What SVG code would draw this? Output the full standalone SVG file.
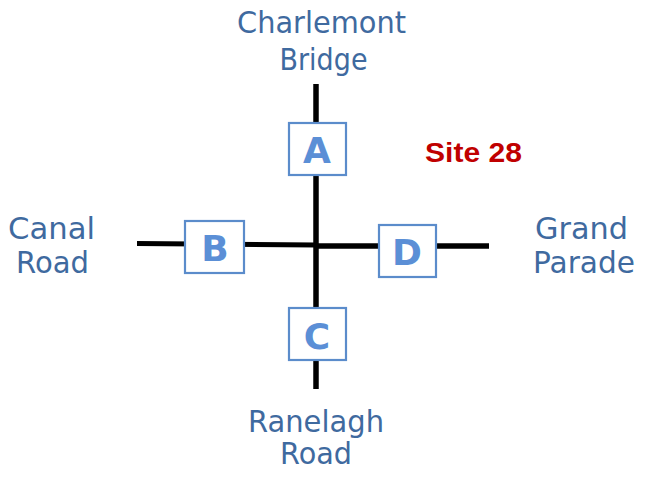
<svg xmlns="http://www.w3.org/2000/svg" width="653" height="477" viewBox="0 0 653 477">
<style>
.road{stroke:#000;stroke-width:5.5;fill:none}
.box{fill:#fff;stroke:#5B8CCB;stroke-width:2.2}
.let{font-family:"DejaVu Sans",sans-serif;font-weight:bold;font-size:36px;fill:#5B8FD6;text-anchor:middle}
.lbl{font-family:"DejaVu Sans",sans-serif;font-size:30px;fill:#3F6A9F;text-anchor:middle}
.site{font-family:"Liberation Sans",Arial,sans-serif;font-weight:bold;font-size:27.5px;fill:#C00000}
</style>
<rect width="653" height="477" fill="#fff"/>
<g id="connectors">
<line class="road" x1="316" y1="84" x2="316" y2="389"/>
<line class="road" x1="137" y1="243.5" x2="316" y2="245" style="stroke-width:5"/>
<line class="road" x1="316" y1="246" x2="489" y2="246"/>
</g>
<g id="A"><rect class="box" x="289" y="123" width="57" height="52"/><text class="let" x="317" y="163">A</text></g>
<g id="B"><rect class="box" x="185" y="221" width="59" height="52"/><text class="let" x="215" y="261">B</text></g>
<g id="C"><rect class="box" x="289" y="308" width="57" height="52"/><text class="let" x="317" y="349">C</text></g>
<g id="D"><rect class="box" x="379" y="225" width="57" height="52"/><text class="let" x="407" y="265">D</text></g>
<g id="site"><text class="site" x="425" y="162" textLength="97" lengthAdjust="spacingAndGlyphs">Site 28</text></g>
<g id="charlemont"><text class="lbl" x="321.5" y="33" textLength="169" lengthAdjust="spacingAndGlyphs">Charlemont</text><text class="lbl" x="323.5" y="70" textLength="88" lengthAdjust="spacingAndGlyphs">Bridge</text></g>
<g id="canal"><text class="lbl" x="51.5" y="239" textLength="87" lengthAdjust="spacingAndGlyphs">Canal</text><text class="lbl" x="52.5" y="273" textLength="73" lengthAdjust="spacingAndGlyphs">Road</text></g>
<g id="grand"><text class="lbl" x="581.5" y="239" textLength="93" lengthAdjust="spacingAndGlyphs">Grand</text><text class="lbl" x="584" y="273" textLength="102" lengthAdjust="spacingAndGlyphs">Parade</text></g>
<g id="ranelagh"><text class="lbl" x="316" y="432" textLength="136" lengthAdjust="spacingAndGlyphs">Ranelagh</text><text class="lbl" x="316" y="464" textLength="72" lengthAdjust="spacingAndGlyphs">Road</text></g>
</svg>
